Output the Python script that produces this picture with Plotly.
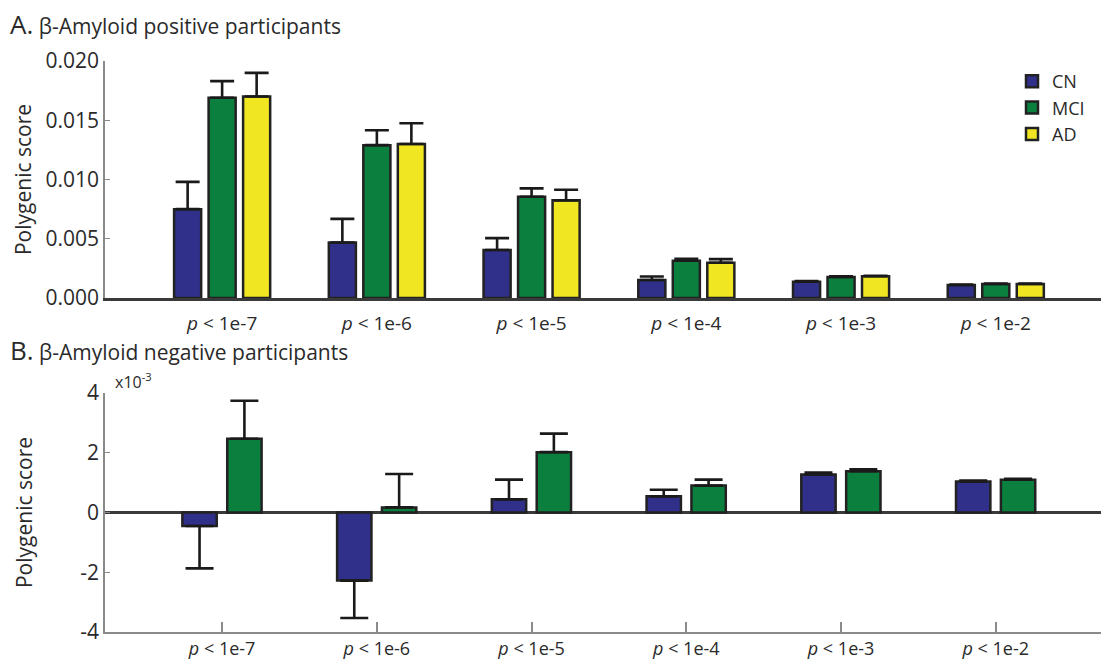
import plotly.graph_objects as go

# ---------------- data ----------------
categories = ["p < 1e-7", "p < 1e-6", "p < 1e-5", "p < 1e-4", "p < 1e-3", "p < 1e-2"]
tick_labels = ["<i>p</i> &lt; 1e-7", "<i>p</i> &lt; 1e-6", "<i>p</i> &lt; 1e-5",
               "<i>p</i> &lt; 1e-4", "<i>p</i> &lt; 1e-3", "<i>p</i> &lt; 1e-2"]
groups = ["CN", "MCI", "AD"]

# Panel A: beta-amyloid positive participants
pos_cn = [0.0075, 0.00468, 0.00405, 0.00152, 0.00138, 0.00110]
pos_mci = [0.0169, 0.0129, 0.00855, 0.00315, 0.00177, 0.00118]
pos_ad = [0.0170, 0.0130, 0.00824, 0.00298, 0.00183, 0.00118]
pos_cn_err = [0.0023, 0.0020, 0.0010, 0.0003, 0.00006, 0.00003]
pos_mci_err = [0.0014, 0.00125, 0.0007, 0.00015, 0.00007, 0.00003]
pos_ad_err = [0.0020, 0.00175, 0.0009, 0.0003, 0.00005, 0.00003]

# Panel B: beta-amyloid negative participants
neg_cn = [-0.00045, -0.00228, 0.00044, 0.00054, 0.00127, 0.00104]
neg_mci = [0.00247, 0.00017, 0.00202, 0.00090, 0.00138, 0.00110]
neg_cn_err = [0.00142, 0.00125, 0.00066, 0.00022, 0.00007, 0.00003]
neg_mci_err = [0.00127, 0.00112, 0.00062, 0.00020, 0.00007, 0.00003]

y_top_ticks = [0.0, 0.005, 0.010, 0.015, 0.020]
y_bot_ticks = [-0.004, -0.002, 0.0, 0.002, 0.004]
y_bot_ticktext = ["-4", "-2", "0", "2", "4"]

colors = {"CN": "#30308a", "MCI": "#0b7f3e", "AD": "#f0e622"}
outline = "#222222"
FONT = "Open Sans"
TXT = "#2a2a2a"

W, H = 1101, 660
ML = 105
PW = W - ML


def px_x(px):
    return (px - ML) / PW


def px_y(py):
    return (H - py) / H


xpos = list(range(len(categories)))


def err_dict(vals, errs, halfw):
    up = [e if v >= 0 else 0 for v, e in zip(vals, errs)]
    dn = [e if v < 0 else 0 for v, e in zip(vals, errs)]
    return dict(type="data", symmetric=False, array=up, arrayminus=dn,
                color="#1a1a1a", thickness=2.6, width=halfw)


fig = go.Figure()

top_w = 0.175
top_centers = [-0.223, 0.0, 0.223]
for name, vals, errs, c in zip(groups, [pos_cn, pos_mci, pos_ad],
                               [pos_cn_err, pos_mci_err, pos_ad_err], top_centers):
    fig.add_trace(go.Bar(
        x=xpos, y=vals, name=name, legendgroup=name,
        width=top_w, offset=c - top_w / 2,
        marker=dict(color=colors[name], line=dict(color=outline, width=2.5)),
        error_y=err_dict(vals, errs, 12),
        xaxis="x", yaxis="y",
    ))

bot_w = 0.222
bot_centers = [-0.146, 0.144]
for name, vals, errs, c in zip(groups[:2], [neg_cn, neg_mci],
                               [neg_cn_err, neg_mci_err], bot_centers):
    fig.add_trace(go.Bar(
        x=xpos, y=vals, name=name, legendgroup=name, showlegend=False,
        width=bot_w, offset=c - bot_w / 2,
        marker=dict(color=colors[name], line=dict(color=outline, width=2.5)),
        error_y=err_dict(vals, errs, 14),
        xaxis="x2", yaxis="y2",
    ))

xr = [-0.757, 5.68]
tickfont = dict(family=FONT, size=19, color=TXT)
ytickfont = dict(family=FONT, size=21, color=TXT)
titlefont = dict(family=FONT, size=21, color=TXT)

fig.update_layout(
    width=W, height=H,
    margin=dict(l=ML, r=0, t=0, b=0, autoexpand=False),
    paper_bgcolor="white", plot_bgcolor="white",
    barmode="overlay",
    font=dict(family=FONT, color=TXT),
    showlegend=True,
    legend=dict(x=px_x(1012), y=px_y(63), xanchor="left", yanchor="top",
                font=dict(family=FONT, size=18, color=TXT),
                bgcolor="rgba(0,0,0,0)", tracegroupgap=0, itemwidth=30),
    xaxis=dict(domain=[0, 1], range=xr, anchor="y", automargin=False,
               tickmode="array", tickvals=xpos, ticktext=tick_labels,
               tickfont=tickfont, showline=True, linecolor="#3a3a3a", linewidth=2.5,
               ticks="", showgrid=False, zeroline=False, ticklabelstandoff=6),
    yaxis=dict(domain=[px_y(298), px_y(61)], range=[0, 0.020], anchor="x", automargin=False,
               tickmode="array", tickvals=y_top_ticks, tickformat=".3f",
               tickfont=ytickfont,
               showline=True, linecolor="#8a8a8a", linewidth=1.5,
               ticks="inside", ticklen=5, tickcolor="#8a8a8a",
               showgrid=False, zeroline=False,
               title=dict(text="Polygenic score", font=titlefont, standoff=8)),
    xaxis2=dict(domain=[0, 1], range=xr, anchor="y2", automargin=False,
                tickmode="array", tickvals=xpos, ticktext=tick_labels,
                tickfont=dict(family=FONT, size=18, color=TXT),
                showline=True, linecolor="#8a8a8a", linewidth=1.5,
                ticks="inside", ticklen=10, tickcolor="#8a8a8a", tickwidth=1.5,
                showgrid=False, zeroline=False, ticklabelstandoff=0),
    yaxis2=dict(domain=[px_y(632), px_y(393)], range=[-0.004, 0.004], anchor="x2",
                automargin=False,
                tickmode="array", tickvals=y_bot_ticks, ticktext=y_bot_ticktext,
                tickfont=ytickfont,
                showline=True, linecolor="#8a8a8a", linewidth=1.5,
                ticks="inside", ticklen=5, tickcolor="#8a8a8a",
                showgrid=False, zeroline=True, zerolinecolor="#3a3a3a", zerolinewidth=2.5,
                title=dict(text="Polygenic score", font=titlefont, standoff=42)),
    annotations=[
        dict(text="<span style='font-size:26px'>A.</span> β-Amyloid positive participants",
             x=px_x(8), y=px_y(24), xref="paper", yref="paper", xanchor="left", yanchor="middle",
             showarrow=False, font=dict(family=FONT, size=21, color=TXT)),
        dict(text="<span style='font-size:26px'>B.</span> β-Amyloid negative participants",
             x=px_x(8), y=px_y(350), xref="paper", yref="paper", xanchor="left", yanchor="middle",
             showarrow=False, font=dict(family=FONT, size=21, color=TXT)),
        dict(text="x10<sup>-3</sup>", x=px_x(113), y=px_y(381), xref="paper", yref="paper",
             xanchor="left", yanchor="middle", showarrow=False,
             font=dict(family=FONT, size=16, color=TXT)),
    ],
)

fig.write_html("out.html", config={"displayModeBar": False},
               post_script="document.body.style.margin='0px';")
